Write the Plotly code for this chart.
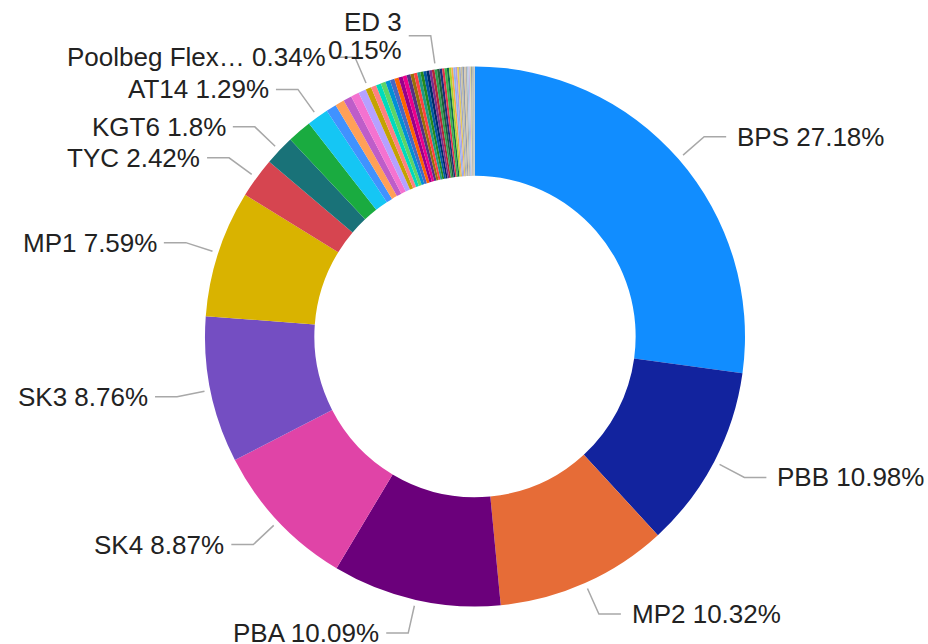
import math
import plotly.graph_objects as go

# ---------------- data ----------------
units = [
    "BPS", "PBB", "MP2", "PBA", "SK4", "SK3", "MP1", "TYC", "KGT6", "HNC", "AT14",
    "AD2", "WG1", "DB1", "HN2", "GI4", "Poolbeg Flexible Generation",
    "TB3", "TB4", "AT11", "AT12", "TP1", "TP3", "RP1", "RP2", "NW5", "MRC",
    "LR4", "WO4", "ED5", "AD1", "CPS", "KGT7", "BGT1",
    "ED 3",
    "BGT2", "TB1", "TB2", "AGU", "ED6", "IE1", "KPU", "CUS", "BRB", "CLG",
    "CLD", "TLR", "SGT", "DRG", "BOL", "MGT", "LGT", "ARD", "BLK", "MHO",
    "TRW", "SPS", "LSA",
]
shares = [
    27.18, 10.98, 10.32, 10.09, 8.87, 8.76, 7.59, 2.42, 1.80, 1.45, 1.29,
    0.62, 0.55, 0.50, 0.49, 0.46, 0.34,
    0.32, 0.30, 0.29, 0.28, 0.27, 0.26, 0.25, 0.24, 0.23, 0.21,
    0.20, 0.19, 0.18, 0.18, 0.17, 0.16, 0.16,
    0.15,
    0.15, 0.15, 0.14, 0.14, 0.13, 0.13, 0.12, 0.12, 0.11, 0.11,
    0.10, 0.10, 0.10, 0.09, 0.09, 0.08, 0.08, 0.07, 0.06, 0.06,
    0.05, 0.04, 0.03,
]
labelled = ["BPS", "PBB", "MP2", "PBA", "SK4", "SK3", "MP1", "TYC", "KGT6",
            "AT14", "Poolbeg Flexible Generation", "ED 3"]
wrapped = ["ED 3"]

palette = [
    "#118DFF", "#12239E", "#E66C37", "#6B007B", "#E044A7", "#744EC2", "#D9B300",
    "#D64550", "#197278", "#1AAB40", "#15C6F4", "#4092FF", "#FFA058", "#BE5DC9",
    "#F472D0", "#B5A1FF", "#C4A200", "#FF8080", "#00DBBC", "#5BD667", "#0091D5",
    "#4668C5", "#FF6300", "#99008A", "#EC008C", "#533285", "#99700A", "#FF4141",
    "#1F9A85", "#25891C", "#0057A2", "#002B6A", "#7A2E8C", "#B3263A", "#2E9E4F",
    "#1E5E3B", "#1F2F7A", "#E0344B", "#3BB54A", "#0E6B4F", "#A5D62F", "#F6A94C",
    "#8FB3F2", "#B39DDB", "#E4C95A", "#9FA8C7", "#C9C19E", "#8E9AAF", "#D7C8A8",
    "#B0B0B0", "#A8C6E0", "#C7B8E0", "#DDD6A0", "#9AA0A6", "#BFC5A8", "#A9B4C2",
    "#C8C8C8", "#B8B8A8",
]

# ---------------- layout constants ----------------
W, H = 928, 644
CX, CY, R = 475.0, 336.5, 270.0
HOLE = 0.595
FONT = dict(family="Liberation Sans, Arial, sans-serif", size=26, color="#222222")
LINE_COLOR = "#A8A8A8"
LINE_GAP = 28  # spacing of wrapped label lines

fig = go.Figure()
fig.add_trace(go.Pie(
    labels=units, values=shares, sort=False, direction="clockwise", rotation=0,
    hole=HOLE, marker=dict(colors=palette[:len(units)], line=dict(width=0)),
    textinfo="none", hoverinfo="label+percent", showlegend=False,
    domain=dict(x=[(CX - R) / W, (CX + R) / W], y=[(H - CY - R) / H, (H - CY + R) / H]),
))


def fmt_pct(p):
    s = f"{p:.2f}".rstrip("0").rstrip(".")
    return s + "%"


def short(name):
    return name[:12] + "…" if len(name) > 13 else name


total = sum(shares)
cum = 0.0
annotations = []
for name, v in zip(units, shares):
    mid = (cum + v / 2) / total
    cum += v
    if name not in labelled:
        continue
    th = 2 * math.pi * mid  # clockwise from 12 o'clock
    s, c = math.sin(th), math.cos(th)
    p1 = (CX + (R + 6) * s, CY - (R + 6) * c)
    p2 = (CX + (R + 34) * s, CY - (R + 34) * c)
    side = 1 if s >= 0 else -1
    p3 = (p2[0] + side * 22, p2[1])
    fig.add_trace(go.Scatter(
        x=[p1[0], p2[0], p3[0]], y=[p1[1], p2[1], p3[1]], mode="lines",
        line=dict(color=LINE_COLOR, width=1.5), hoverinfo="skip", showlegend=False,
    ))
    pct = fmt_pct(100 * v / total)
    if name in wrapped:
        lines = [(short(name), p3[1] - LINE_GAP / 2), (pct, p3[1] + LINE_GAP / 2)]
    else:
        lines = [(short(name) + " " + pct, p3[1])]
    gap = 9 if side > 0 else 5
    for txt, ty in lines:
        annotations.append(dict(
            x=p3[0] + side * gap, y=ty, xref="x", yref="y",
            text=txt, showarrow=False,
            xanchor="left" if side > 0 else "right", yanchor="middle",
            font=FONT,
        ))

fig.update_layout(
    width=W, height=H, margin=dict(l=0, r=0, t=0, b=0),
    paper_bgcolor="white", plot_bgcolor="rgba(0,0,0,0)",
    xaxis=dict(range=[0, W], visible=False, fixedrange=True),
    yaxis=dict(range=[H, 0], visible=False, fixedrange=True),
    annotations=annotations, showlegend=False,
)
fig.write_html(
    "out.html",
    config={"displayModeBar": False},
    post_script="document.body.style.margin='0';document.body.style.overflow='hidden';",
)
